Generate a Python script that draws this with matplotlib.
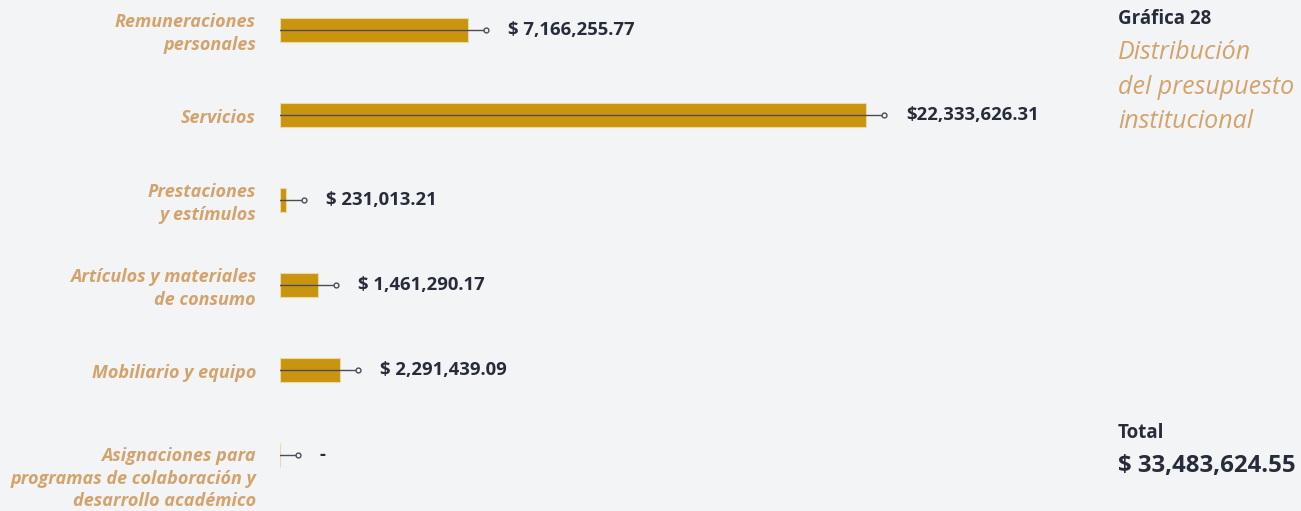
import matplotlib
matplotlib.use("Agg")
import matplotlib.pyplot as plt

categories = [
    "Remuneraciones\npersonales",
    "Servicios",
    "Prestaciones\ny estímulos",
    "Artículos y materiales\nde consumo",
    "Mobiliario y equipo",
    "Asignaciones para\nprogramas de colaboración y\ndesarrollo académico",
]
amounts = [7166255.77, 22333626.31, 231013.21, 1461290.17, 2291439.09, 0.0]
amount_labels = ["$ 7,166,255.77", "$22,333,626.31", "$ 231,013.21",
                 "$ 1,461,290.17", "$ 2,291,439.09", "-"]
total_label = "$ 33,483,624.55"

BG = "#f3f4f6"
BAR = "#c9950f"
LABEL = "#d4a36c"
DARK = "#272c3a"

plt.rcParams["font.family"] = ["Open Sans", "DejaVu Sans"]

fig = plt.figure(figsize=(13.01, 5.11), dpi=100, facecolor=BG)
W, H = 1301, 511
# axes spans x pixels 280..1100, full height
ax = fig.add_axes([280 / W, 0, 820 / W, 1])
ax.set_facecolor(BG)
xmax = max(amounts) * 820 / 586
ax.set_xlim(0, xmax)
ax.set_ylim(5.66, -0.353)
for s in ax.spines.values():
    s.set_visible(False)
ax.set_xticks([])
ax.set_yticks([])

px = xmax / 820  # data units per pixel
ypos = list(range(len(categories)))

ax.barh(ypos, amounts, height=0.28, color=BAR, edgecolor="#ecd9a6", linewidth=0.8)

for y, v, lab, cat in zip(ypos, amounts, amount_labels, categories):
    end = v + 18 * px
    ax.plot([0, end], [y, y], color="#4a4d57", lw=1.0, zorder=3)
    ax.plot(end, y, marker="o", ms=3.5, mfc=BG, mec="#4a4d57", mew=1.0, zorder=4)
    ax.text(end + 22 * px, y, lab, ha="left", va="center", fontsize=13.3,
            fontweight="bold", color=DARK)
    # three-line label hangs below its row
    ly = y + 0.28 if cat.count("\n") == 2 else y + 0.04
    ax.text(-24 * px, ly, cat, ha="right", va="center", fontsize=13,
            fontstyle="italic", fontweight="bold", color=LABEL,
            linespacing=1.32, clip_on=False)

fig.text(1118 / W, 1 - 19 / H, "Gráfica 28", ha="left", va="center",
         fontsize=13.5, fontweight="bold", color=DARK)
fig.text(1118 / W, 1 - 87 / H, "Distribución\ndel presupuesto\ninstitucional",
         ha="left", va="center", fontsize=18, fontstyle="italic",
         color=LABEL, linespacing=1.5)
fig.text(1118 / W, 1 - 433 / H, "Total", ha="left", va="center",
         fontsize=13.5, fontweight="bold", color=DARK)
fig.text(1118 / W, 1 - 466 / H, total_label, ha="left", va="center",
         fontsize=17.3, fontweight="bold", color=DARK)

fig.savefig("out.png", dpi=100, facecolor=BG)
